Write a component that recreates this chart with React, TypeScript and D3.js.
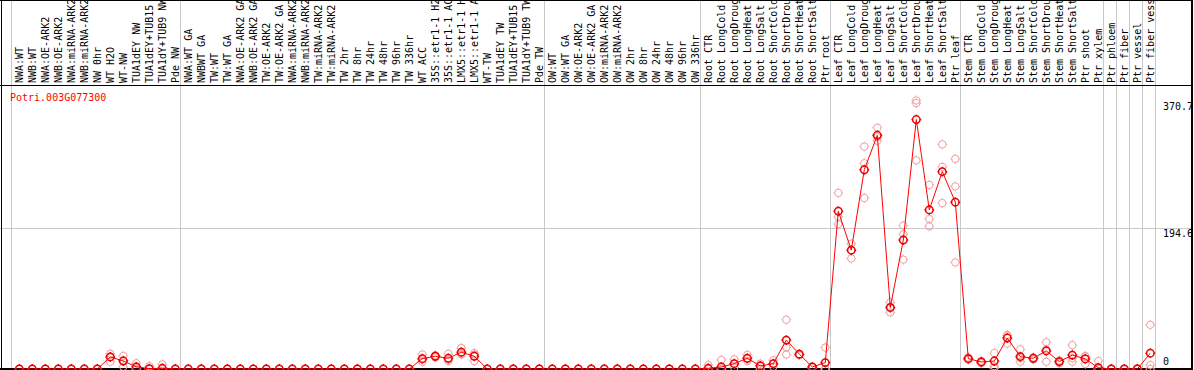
import React from "react";
import * as d3 from "d3";

const title = "Potri.003G077300";

const categories = [
  "NWA:WT", "NWB:WT", "NWA:OE-ARK2", "NWB:OE-ARK2", "NWA:miRNA-ARK2", "NWB:miRNA-ARK2",
  "NW 0hr", "WT H2O", "WT-NW", "TUA1dEY NW", "TUA1dEY+TUB15", "TUA1dY+TUB9 NW", "Pde NW",
  "NWA:WT GA", "NWBWT GA", "TW:WT", "TW:WT GA", "NWA:OE-ARK2 GA", "NWB:OE-ARK2 GA",
  "TW:OE-ARK2", "TW:OE-ARK2 GA", "NWA:miRNA-ARK2", "NWB:miRNA-ARK2", "TW:miRNA-ARK2",
  "TW:miRNA-ARK2", "TW 2hr", "TW 8hr", "TW 24hr", "TW 48hr", "TW 96hr", "TW 336hr",
  "WT ACC", "35S::etr1-1 H2", "35S::etr1-1 AC", "LMX5::etr1-1 H", "LMX5::etr1-1 A",
  "WT-TW", "TUA1dEY TW", "TUA1dEY+TUB15", "TUA1dY+TUB9 TW", "Pde TW",
  "OW:WT", "OW:WT GA", "OW:OE-ARK2", "OW:OE-ARK2 GA", "OW:miRNA-ARK2", "OW:miRNA-ARK2",
  "OW 2hr", "OW 8hr", "OW 24hr", "OW 48hr", "OW 96hr", "OW 336hr",
  "Root CTR", "Root LongCold", "Root LongDroug", "Root LongHeat", "Root LongSalt",
  "Root ShortCold", "Root ShortDrou", "Root ShortHeat", "Root ShortSalt", "Ptr root",
  "Leaf CTR", "Leaf LongCold", "Leaf LongDroug", "Leaf LongHeat", "Leaf LongSalt",
  "Leaf ShortCold", "Leaf ShortDrou", "Leaf ShortHeat", "Leaf ShortSalt", "Ptr leaf",
  "Stem CTR", "Stem LongCold", "Stem LongDroug", "Stem LongHeat", "Stem LongSalt",
  "Stem ShortCold", "Stem ShortDrou", "Stem ShortHeat", "Stem ShortSalt", "Ptr shoot",
  "Ptr xylem", "Ptr phloem", "Ptr fiber", "Ptr vessel", "Ptr fiber vess",
];

const means = [
  0, 0, 0, 0, 0, 0, 0, 16.7, 11, 3, 0.5, 1, 0,
  0, 0, 0, 0, 0, 0, 0, 0, 0, 0, 0, 0, 0, 0, 0, 0, 0, 0,
  14.3, 17.6, 14.8, 23.2, 17.6, 0, 0, 0, 0, 0,
  0, 0, 0, 0, 0, 0, 0, 0, 0, 0, 0, 0,
  1, 2.8, 7.4, 14.8, 4.2, 7.4, 39.9, 20.5, 2.8, 8.8,
  217.8, 164, 275, 322.5, 85, 178, 344.3, 219.6, 272.4, 230.3,
  14.3, 9.7, 11, 42.7, 17.1, 14.8, 25, 10.2, 19.2, 13.9,
  1.8, 0, 0, 0, 21.8,
];

const replicates: number[][] = [
  [0], [0], [0], [0], [0], [0], [0], [21, 16, 10], [18, 12, 3], [8, 1, 0], [4, 0, 0], [6.5, 0, 0], [0],
  [0], [0], [0], [0], [0], [0], [0], [0], [0], [0], [0], [0], [0], [0], [0], [0], [0], [0],
  [20, 13, 10], [19, 17, 16], [21, 13, 11], [29, 21, 20], [22, 20, 11], [0], [0], [0], [0], [0],
  [0], [0], [0], [0], [0], [0], [0], [0], [0], [0], [0], [0],
  [5.5, 0, 0], [12.5, 0, 0], [13.4, 7, 2], [19.5, 14, 11], [7.4, 5, 0], [12, 7, 3],
  [68, 30, 20], [20, 19, 19], [3, 3, 1], [29.6, 0, 0],
  [243, 210, 200], [173, 164, 152.5], [307, 284, 236], [333, 320, 315], [92, 84, 78],
  [198, 186, 151], [370.7, 367, 288], [254, 207, 197], [310, 279, 229], [290, 252, 147],
  [16, 14, 13], [11, 9, 8], [22, 4, 1], [47, 46, 35], [27, 15, 10],
  [16, 15, 13], [37, 27, 10], [12, 10, 8], [33, 15, 10], [18, 17, 7],
  [11, 0, 0], [0, 0, 0], [0, 0, 0], [1, 0, 0], [61, 5.5, 0],
];

// indices of columns after which a group separator is drawn (-1 = leading line)
const separatorsAfter = [-1, 12, 40, 52, 62, 72, 83, 84, 85, 86, 87];

const yTicks = [370.7, 194.6];
const gridValues = [194.6];

const W = 1194;
const H = 370;
const FONT = "'DejaVu Sans Mono', monospace";

function Marker({ cx, cy, color, sw }: { cx: number; cy: number; color: string; sw: number }) {
  const r = 3.7;
  const t = 4.9;
  return (
    <g stroke={color} strokeWidth={sw} fill="none">
      <circle cx={cx} cy={cy} r={r} />
      <line x1={cx} y1={cy - t} x2={cx} y2={cy - r} />
      <line x1={cx} y1={cy + r} x2={cx} y2={cy + t} />
      <line x1={cx - t} y1={cy} x2={cx - r} y2={cy} />
      <line x1={cx + r} y1={cy} x2={cx + t} y2={cy} />
    </g>
  );
}

export default function App() {
  const x = d3
    .scaleLinear()
    .domain([0, categories.length - 1])
    .range([19.3, 19.3 + 13 * (categories.length - 1)]);
  const y = d3.scaleLinear().domain([0, 370.7]).range([369, 100.4]);

  const line = d3
    .line<number>()
    .x((_, i) => x(i))
    .y((d) => y(d));

  return (
    <svg
      width={W}
      height={H}
      style={{ position: "absolute", left: 0, top: 0, background: "#fff" }}
      shapeRendering="crispEdges"
    >
      <rect x={0} y={0} width={W} height={H} fill="#fff" />
      {separatorsAfter.map((k) => (
        <line
          key={"s" + k}
          x1={Math.round(x(k) + 4.7) + 0.5}
          x2={Math.round(x(k) + 4.7) + 0.5}
          y1={0}
          y2={369}
          stroke="#c8c8c8"
          strokeWidth={1}
        />
      ))}
      {gridValues.map((v) => (
        <line key={"g" + v} x1={0} x2={1192} y1={Math.round(y(v)) + 0.5} y2={Math.round(y(v)) + 0.5} stroke="#c8c8c8" />
      ))}
      <line x1={1.5} x2={1.5} y1={0} y2={H} stroke="#000" strokeWidth={1.5} />
      <line x1={0} x2={1192} y1={0.5} y2={0.5} stroke="#000" />
      <line x1={0} x2={1192} y1={85.5} y2={85.5} stroke="#000" />
      <line x1={1192} x2={1192} y1={0} y2={H} stroke="#000" strokeWidth={1.5} />
      <line x1={0} x2={1192} y1={369} y2={369} stroke="#000" strokeWidth={1.5} />
      <g fontFamily={FONT} fontSize={10} fill="#000" shapeRendering="auto">
        {categories.map((c, i) => (
          <text key={"l" + i} transform={`translate(${x(i) + 3.5},83) rotate(-90)`}>
            {c}
          </text>
        ))}
      </g>
      <text x={10} y={101} fontFamily={FONT} fontSize={10} fill="#ff0000">
        {title}
      </text>
      <g fontFamily={FONT} fontSize={10} fill="#000">
        {yTicks.map((v) => (
          <text key={"t" + v} x={1163} y={y(v) + 9.5}>
            {v}
          </text>
        ))}
        <text x={1163} y={365}>0</text>
      </g>
      <g shapeRendering="auto">
        {replicates.map((reps, i) =>
          reps.map((v, j) => (
            <Marker key={`r${i}-${j}`} cx={x(i)} cy={y(v)} color="#f2a0a0" sw={1} />
          ))
        )}
      </g>
      <path d={line(means) || ""} fill="none" stroke="#ff0000" strokeWidth={1} shapeRendering="auto" />
      <g shapeRendering="auto">
        {means.map((v, i) => (
          <Marker key={`m${i}`} cx={x(i)} cy={y(v)} color="#ee0000" sw={1.5} />
        ))}
      </g>
    </svg>
  );
}
